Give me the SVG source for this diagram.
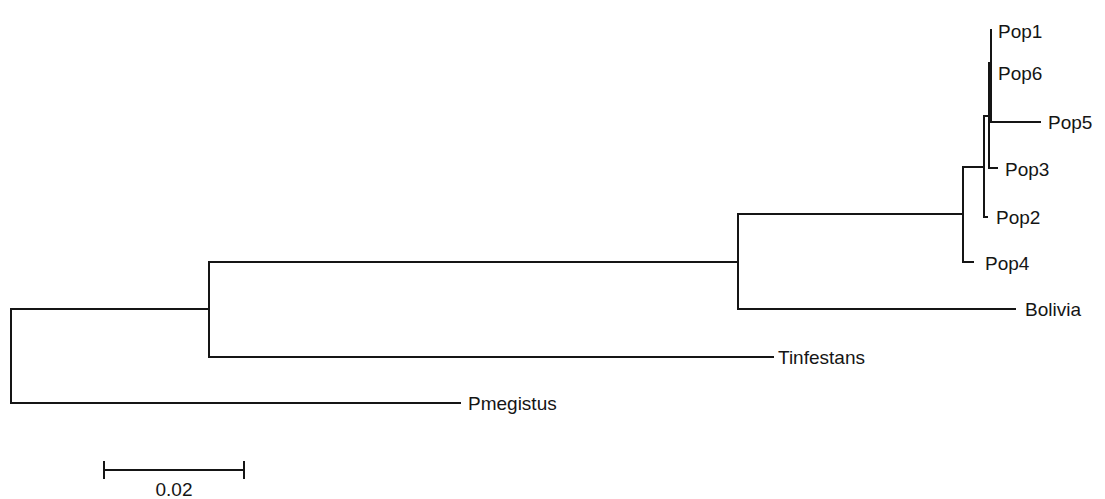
<svg xmlns="http://www.w3.org/2000/svg" width="1105" height="499" viewBox="0 0 1105 499">
<style>
.e{stroke:#151515;stroke-width:2;fill:none;stroke-linecap:square}
.t{font-family:"Liberation Sans",Arial,sans-serif;font-size:19px;fill:#151515}
</style>
<rect width="1105" height="499" fill="#ffffff"/>
<g id="connectors">
<path class="e" d="M11,309V403M11,309H209M11,403H460"/>
<path class="e" d="M209,262V357M209,357H773M209,262H738"/>
<path class="e" d="M738,214V309M738,309H1015M738,214H963"/>
<path class="e" d="M963,167V262M963,262H973M963,167H984"/>
<path class="e" d="M984,116V217M984,217H987M984,116H989"/>
<path class="e" d="M989,63V168M989,168H997M989,122H1040"/>
<path class="e" d="M991,30V120"/>
<path class="e" d="M990,63V118"/>
</g>
<g id="scale"><path class="e" d="M104,470H244M104,462V478M244,462V478"/><text class="t" x="174" y="496" text-anchor="middle">0.02</text></g>
<g id="Pop1"><text class="t" x="998" y="38">Pop1</text></g>
<g id="Pop6"><text class="t" x="998" y="80">Pop6</text></g>
<g id="Pop5"><text class="t" x="1048" y="129">Pop5</text></g>
<g id="Pop3"><text class="t" x="1005" y="176">Pop3</text></g>
<g id="Pop2"><text class="t" x="996" y="224">Pop2</text></g>
<g id="Pop4"><text class="t" x="985" y="270">Pop4</text></g>
<g id="Bolivia"><text class="t" x="1025" y="316">Bolivia</text></g>
<g id="Tinfestans"><text class="t" x="778" y="364">Tinfestans</text></g>
<g id="Pmegistus"><text class="t" x="468" y="410">Pmegistus</text></g>
</svg>
